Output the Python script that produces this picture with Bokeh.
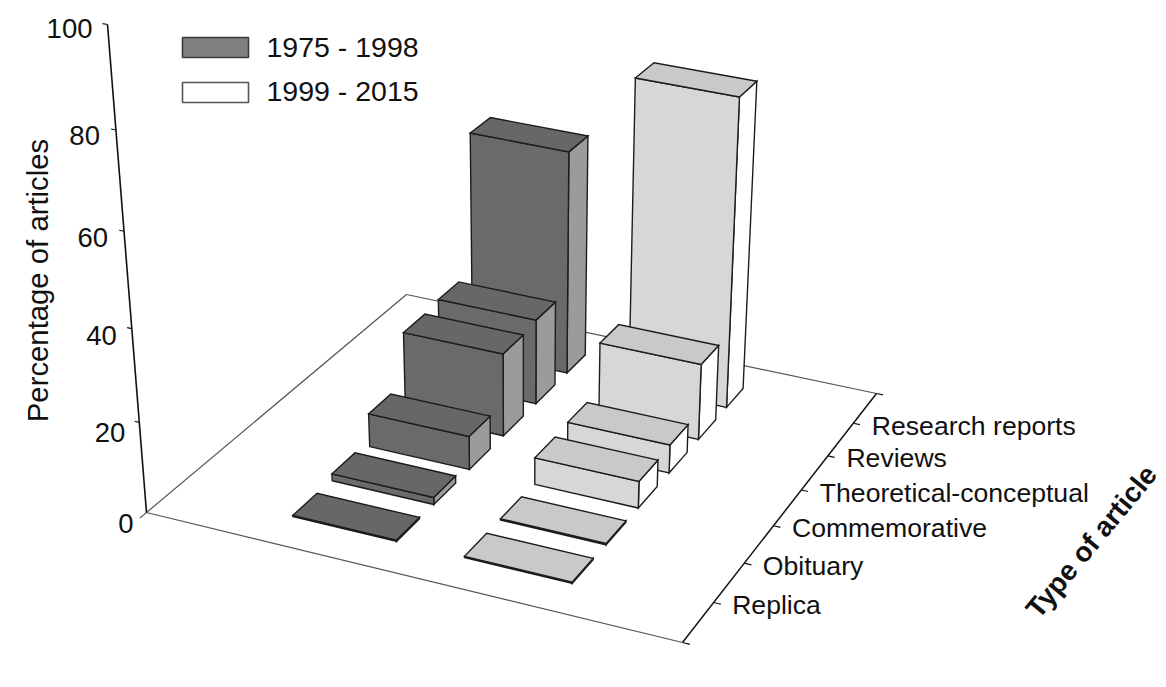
import numpy as np
from bokeh.plotting import figure
from bokeh.core.properties import value
from bokeh.embed import file_html
from bokeh.resources import INLINE

categories = ["Replica", "Obituary", "Commemorative", "Theoretical-conceptual", "Reviews", "Research reports"]
periods = ["1975 - 1998", "1999 - 2015"]
values_1975_1998 = [0.3, 1.6, 7.6, 19.0, 19.7, 51.5]
values_1999_2015 = [0.3, 0.3, 6.1, 6.5, 17.5, 70.3]
y_ticks = [0, 20, 40, 60, 80, 100]
y_title = "Percentage of articles"
type_title = "Type of article"

# ---- projection of the 3-D box (u = period, v = type, z = percentage) on to the page
FLOOR = [(146, 512), (682, 642), (876, 393), (406, 294)]
Z_TOP = (107, 24)
VANISH_Y = 5250.0


def homography(src, dst):
    A, b = [], []
    for (a, c), (x, y) in zip(src, dst):
        A.append([a, c, 1, 0, 0, 0, -a * x, -c * x]); b.append(x)
        A.append([0, 0, 0, a, c, 1, -a * y, -c * y]); b.append(y)
    return np.append(np.linalg.solve(np.array(A, float), np.array(b, float)), 1).reshape(3, 3)


H = homography([(0, 0), (1, 0), (1, 1), (0, 1)], FLOOR)
w = (Z_TOP[1] - FLOOR[0][1]) / (VANISH_Y - Z_TOP[1])
vx = (Z_TOP[0] * (1 + w) - FLOOR[0][0]) / w
PZ = w * np.array([vx, VANISH_Y, 1.0])


def proj(u, v, z=0.0):
    q = H @ np.array([u, v, 1.0]) + (z / 100.0) * PZ
    return q[0] / q[2], q[1] / q[2]


p = figure(width=1166, height=687, x_range=(0, 1166), y_range=(687, 0),
           toolbar_location=None, output_backend="svg", min_border=0,
           outline_line_color=None, background_fill_color="white")
p.axis.visible = False
p.grid.visible = False


def seg(a, b, color, width):
    p.line([a[0], b[0]], [a[1], b[1]], line_color=color, line_width=width)


# floor
FLOOR_C = "#555555"
seg(proj(-0.0, -0.0), proj(1, 0), FLOOR_C, 1.2)
seg(proj(0, -0.022), proj(0, 1), FLOOR_C, 1.2)
seg(proj(0, 1), proj(1, 1), FLOOR_C, 1.2)

# axes
seg(proj(0, 0, 0), proj(0, 0, 100), "#111111", 1.6)
seg(proj(1, 0), proj(1, 1), "#111111", 1.5)
for t in y_ticks[1:]:
    seg(proj(0, 0, t), proj(-0.009, 0, t), "#111111", 1.2)
TICK_V0, TICK_DV = 0.14, 0.1445
tick_v = [TICK_V0 + TICK_DV * i for i in range(len(categories))]
for v in [0.0] + tick_v + [1.0]:
    seg(proj(1, v), proj(1.013, v), "#111111", 1.2)

# bars
U_CENTRES = [1 / 3, 0.662]
U_HALF = 0.1
V_HALF = 0.044
STYLE = [dict(front="#6a6a6a", top="#676767", side="#9b9b9b"),
         dict(front="#d7d7d7", top="#c9c9c9", side="#ffffff")]
for k, vals in enumerate([values_1975_1998, values_1999_2015]):
    u0, u1 = U_CENTRES[k] - U_HALF, U_CENTRES[k] + U_HALF
    for i in range(len(categories) - 1, -1, -1):
        v0, v1 = tick_v[i] - V_HALF, tick_v[i] + V_HALF
        z = vals[i]
        faces = [
            ([(u1, v0, 0), (u1, v1, 0), (u1, v1, z), (u1, v0, z)], STYLE[k]["side"]),
            ([(u0, v0, 0), (u1, v0, 0), (u1, v0, z), (u0, v0, z)], STYLE[k]["front"]),
            ([(u0, v0, z), (u1, v0, z), (u1, v1, z), (u0, v1, z)], STYLE[k]["top"]),
        ]
        for pts, col in faces:
            xy = [proj(*q) for q in pts]
            p.patch([a for a, _ in xy], [b for _, b in xy], fill_color=col,
                    line_color="#1c1c1c", line_width=1.4, line_join="miter")


def label(x, y, s, size, align="left", angle=0.0, style="normal", color="#111111"):
    p.text([x], [y], text=[s], text_font=value("Liberation Sans"),
           text_font_size=value(size), text_align=align, text_baseline="middle",
           angle=angle, text_font_style=style, text_color=color)


# y tick labels
DX = [13, 14, 15, 16, 16, 15]
DY = [11, 10, 7, 6, 6, 4]
for t, dx, dy in zip(y_ticks, DX, DY):
    ax, ay = proj(0, 0, t)
    label(ax - dx, ay + dy, str(t), "27.5px", align="right")

# type labels
for name, v in zip(categories, tick_v):
    ax, ay = proj(1, v)
    label(ax + 18.5, ay + 2.5, name, "26.6px")

label(37, 280, y_title, "29.3px", align="center", angle=np.pi / 2)
label(1091, 541, type_title, "28px", align="center", angle=np.radians(50.5), style="bold")

# legend
LEG_FILL = ["#808080", "#ffffff"]
LEG_EDGE = ["#3c3c3c", "#555555"]
for k, (name, ytop, ty) in enumerate(zip(periods, [37, 82], [46.5, 90.5])):
    p.quad(left=[182], right=[248], top=[ytop], bottom=[ytop + 20],
           fill_color=LEG_FILL[k], line_color=LEG_EDGE[k], line_width=1.6)
    label(266, ty, name, "28.5px")

open("out.html", "w").write(file_html(p, INLINE))
